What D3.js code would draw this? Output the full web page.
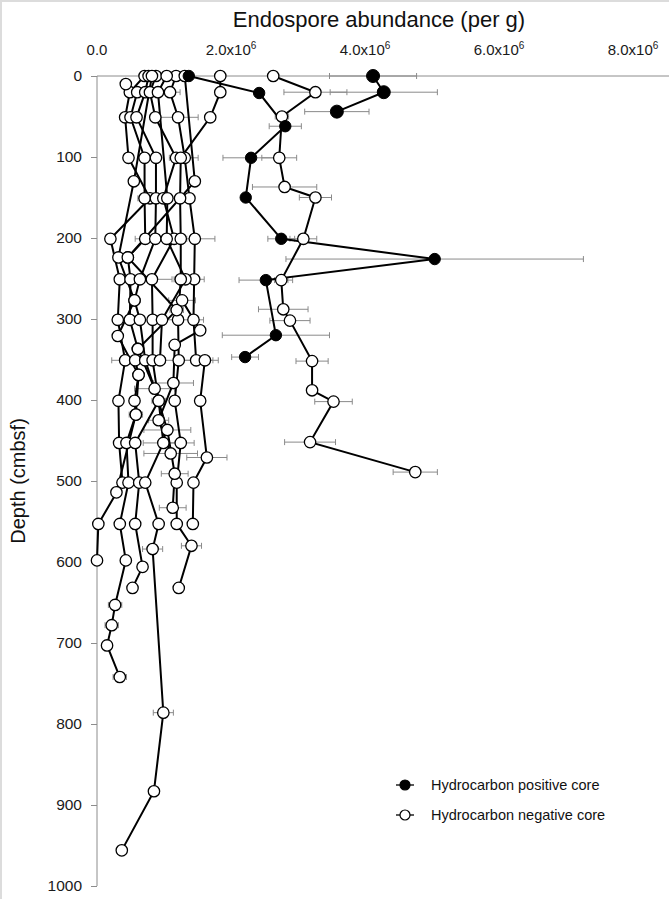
<!DOCTYPE html>
<html><head><meta charset="utf-8">
<script src="https://cdn.jsdelivr.net/npm/d3@7"></script>
<style>body{margin:0;background:#fff}svg{display:block;font-family:"Liberation Sans",Arial,sans-serif}</style>
</head><body><svg id="c" width="669" height="899"></svg>
<script>
// x values in units of 10^6 endospores per g; depth in cmbsf; each point [depth, abundance, error]
const xTicks = [0, 2, 4, 6, 8];
const xTickLabels = ["0.0", "2.0x10|6", "4.0x10|6", "6.0x10|6", "8.0x10|6"];
const yTicks = [0, 100, 200, 300, 400, 500, 600, 700, 800, 900, 1000];
const seriesNames = ["Hydrocarbon positive core", "Hydrocarbon negative core"];

// Hydrocarbon positive cores
const posCoreA = [[0,4.12,0.65],[20,4.28,0.8],[44,3.58,0.48]];
const posCoreB = [[0,1.37,0],[21,2.42,0],[62,2.81,0.24],[101,2.30,0.42],[150,2.22,0],[201,2.75,0.2],[226,5.04,2.22],[252,2.52,0.4],[320,2.67,0.8],[347,2.21,0.2]];

// Hydrocarbon negative cores
const negCoreC = [[0,2.63,0],[20,3.26,0.47],[50,2.76,0.1],[101,2.72,0.26],[137,2.80,0.48],[150,3.26,0.24],[201,3.08,0.2],[252,2.75,0.1],[288,2.78,0.37],[302,2.88,0.3],[352,3.21,0.24],[388,3.21,0],[402,3.53,0.28],[452,3.18,0.38],[489,4.75,0.33]];
const negCore1 = [[0,0.71,0],[20,0.49,0],[51,0.42,0],[101,0.47,0],[151,0.79,0],[201,0.20,0],[251,0.34,0],[301,0.31,0],[351,0.42,0.2],[401,0.32,0],[453,0.33,0],[502,0.38,0],[553,0.02,0],[598,0.00,0]];
const negCore2 = [[10,0.43,0],[20,0.60,0],[51,0.50,0],[101,0.71,0],[151,0.71,0.1],[201,0.72,0.15],[224,0.46,0],[251,0.50,0],[301,0.49,0],[337,0.61,0],[351,0.57,0],[369,0.62,0],[401,0.56,0],[418,0.58,0],[453,0.44,0],[502,0.47,0],[553,0.34,0],[598,0.43,0],[653,0.27,0.1],[678,0.22,0.1],[703,0.15,0],[742,0.34,0.1]];
const negCore3 = [[0,0.77,0],[20,0.72,0],[51,0.59,0],[101,0.88,0],[151,0.88,0],[201,0.87,0.1],[251,0.64,0],[277,0.56,0],[301,0.64,0],[351,0.72,0.1],[401,0.92,0.1],[453,0.57,0],[502,0.63,0],[553,0.57,0],[606,0.68,0],[632,0.53,0]];
const negCore4 = [[0,0.88,0],[20,0.79,0],[51,0.87,0],[101,1.18,0.1],[151,0.99,0],[201,1.15,0],[251,0.82,0.3],[301,0.83,0],[351,0.83,0],[401,0.92,0],[453,0.99,0.3],[502,0.72,0],[553,0.92,0],[584,0.83,0.15],[786,0.99,0.15],[883,0.85,0],[956,0.37,0]];
const negCore5 = [[0,1.18,0],[20,1.09,0.15],[51,1.21,0.3],[101,1.31,0.2],[151,1.38,0],[201,1.46,0.3],[251,1.45,0.15],[301,1.44,0.15],[351,1.48,0.25]];
const negCore6 = [[0,1.04,0],[20,0.91,0],[151,1.05,0],[201,1.04,0.3],[251,1.32,0.1],[301,0.97,0.2],[351,0.94,0]];
const negCore7 = [[0,1.84,0],[20,1.84,0],[51,1.69,0],[101,1.25,0],[151,1.24,0.2],[201,1.25,0],[251,1.25,0.1],[301,1.21,0],[351,1.22,0.2],[401,1.16,0],[453,1.25,0.2],[502,1.19,0],[553,1.19,0],[580,1.41,0.15],[632,1.22,0]];
const negCore8 = [[351,1.61,0.2],[401,1.54,0],[471,1.64,0.3],[502,1.44,0],[553,1.43,0]];
const negCore9 = [[0,0.82,0],[130,0.55,0],[224,0.32,0],[277,0.56,0],[321,0.31,0],[369,0.62,0],[418,0.58,0.1],[514,0.29,0]];
const negCore10 = [[0,1.31,0],[130,1.46,0],[224,0.46,0],[289,1.19,0.1],[337,0.61,0],[386,0.86,0.3],[437,1.05,0.35],[491,1.16,0.2],[533,1.13,0.2]];
const negCore11 = [[277,1.27,0.2],[314,1.54,0],[332,1.16,0],[379,1.14,0.3],[425,0.92,0.15],[466,1.10,0.4]];

const posCores = [posCoreA, posCoreB];
const negCores = [negCore1, negCore2, negCore3, negCore4, negCore5, negCore6, negCore7, negCore8, negCore9, negCore10, negCore11, negCoreC];

const svg = d3.select("#c");
const x = d3.scaleLinear().domain([0, 8]).range([97, 633]);
const y = d3.scaleLinear().domain([0, 1000]).range([76, 886]);

// faint frame edge
svg.append("line").attr("x1",0).attr("x2",669).attr("y1",1).attr("y2",1).attr("stroke","#dcdcdc").attr("stroke-width",2);
svg.append("line").attr("x1",1).attr("x2",1).attr("y1",0).attr("y2",899).attr("stroke","#dcdcdc").attr("stroke-width",2);

// axes
const axisColor = "#8c8c8c";
const gx = svg.append("g").attr("transform", `translate(0,${y(0)})`)
  .call(d3.axisTop(x).tickValues(xTicks).tickSize(0).tickFormat(""));
gx.select(".domain").attr("stroke", axisColor).attr("d", `M${x(0)},0H669`);
const gy = svg.append("g").attr("transform", `translate(${x(0)},0)`)
  .call(d3.axisLeft(y).tickValues(yTicks).tickSize(6).tickPadding(9).tickFormat(d3.format("d")));
gy.select(".domain").attr("stroke", axisColor).attr("d", `M0,${y(0)}V${y(1000)}`);
gy.selectAll(".tick line").attr("stroke", axisColor);
gy.selectAll(".tick text").attr("font-size", 15.5).attr("fill", "#1a1a1a").attr("font-family", "Liberation Sans, Arial, sans-serif");

// x tick labels with superscript
xTicks.forEach((v, i) => {
  const parts = xTickLabels[i].split("|");
  const t = svg.append("text").attr("x", x(v)).attr("y", 55).attr("text-anchor", "middle")
    .attr("font-size", 15).attr("fill", "#1a1a1a").text(parts[0]);
  if (parts[1]) t.append("tspan").attr("font-size", 10).attr("dy", -6).text(parts[1]);
});

// titles
svg.append("text").attr("x", 379).attr("y", 27).attr("text-anchor", "middle")
  .attr("font-size", 22).attr("fill", "#111").text("Endospore abundance (per g)");
svg.append("text").attr("transform", `translate(25,481) rotate(-90)`).attr("text-anchor", "middle")
  .attr("font-size", 20).attr("fill", "#111").text("Depth (cmbsf)");

const all = posCores.concat(negCores);
// error bars
const eg = svg.append("g").attr("stroke", "#8a8a8a").attr("stroke-width", 1);
all.forEach(core => core.forEach(d => {
  if (!d[2]) return;
  const yy = y(d[0]), x1 = x(d[1] - d[2]), x2 = x(d[1] + d[2]);
  eg.append("line").attr("x1", x1).attr("x2", x2).attr("y1", yy).attr("y2", yy);
  eg.append("line").attr("x1", x1).attr("x2", x1).attr("y1", yy - 3).attr("y2", yy + 3);
  eg.append("line").attr("x1", x2).attr("x2", x2).attr("y1", yy - 3).attr("y2", yy + 3);
}));

const line = d3.line().x(d => x(d[1])).y(d => y(d[0]));
negCores.forEach(core => svg.append("path").datum(core).attr("d", line)
  .attr("fill", "none").attr("stroke", "#000").attr("stroke-width", 2));
posCores.forEach(core => svg.append("path").datum(core).attr("d", line)
  .attr("fill", "none").attr("stroke", "#000").attr("stroke-width", 2));

negCores.forEach(core => svg.append("g").selectAll("circle").data(core).join("circle")
  .attr("cx", d => x(d[1])).attr("cy", d => y(d[0])).attr("r", 5.7)
  .attr("fill", "#fff").attr("stroke", "#000").attr("stroke-width", 1.3));
posCores.forEach((core, i) => svg.append("g").selectAll("circle").data(core).join("circle")
  .attr("cx", d => x(d[1])).attr("cy", d => y(d[0])).attr("r", i === 0 ? 6.5 : 5.7)
  .attr("fill", "#000").attr("stroke", "#000").attr("stroke-width", 1));

// legend
const lg = svg.append("g");
seriesNames.forEach((name, i) => {
  const ly = 785 + i * 30;
  lg.append("line").attr("x1", 396).attr("x2", 414).attr("y1", ly).attr("y2", ly).attr("stroke", "#000").attr("stroke-width", 1.3);
  lg.append("circle").attr("cx", 405).attr("cy", ly).attr("r", 5)
    .attr("fill", i === 0 ? "#000" : "#fff").attr("stroke", "#000").attr("stroke-width", 1.2);
  lg.append("text").attr("x", 431).attr("y", ly + 5).attr("font-size", 14.5).attr("fill", "#111").text(name);
});
</script></body></html>
